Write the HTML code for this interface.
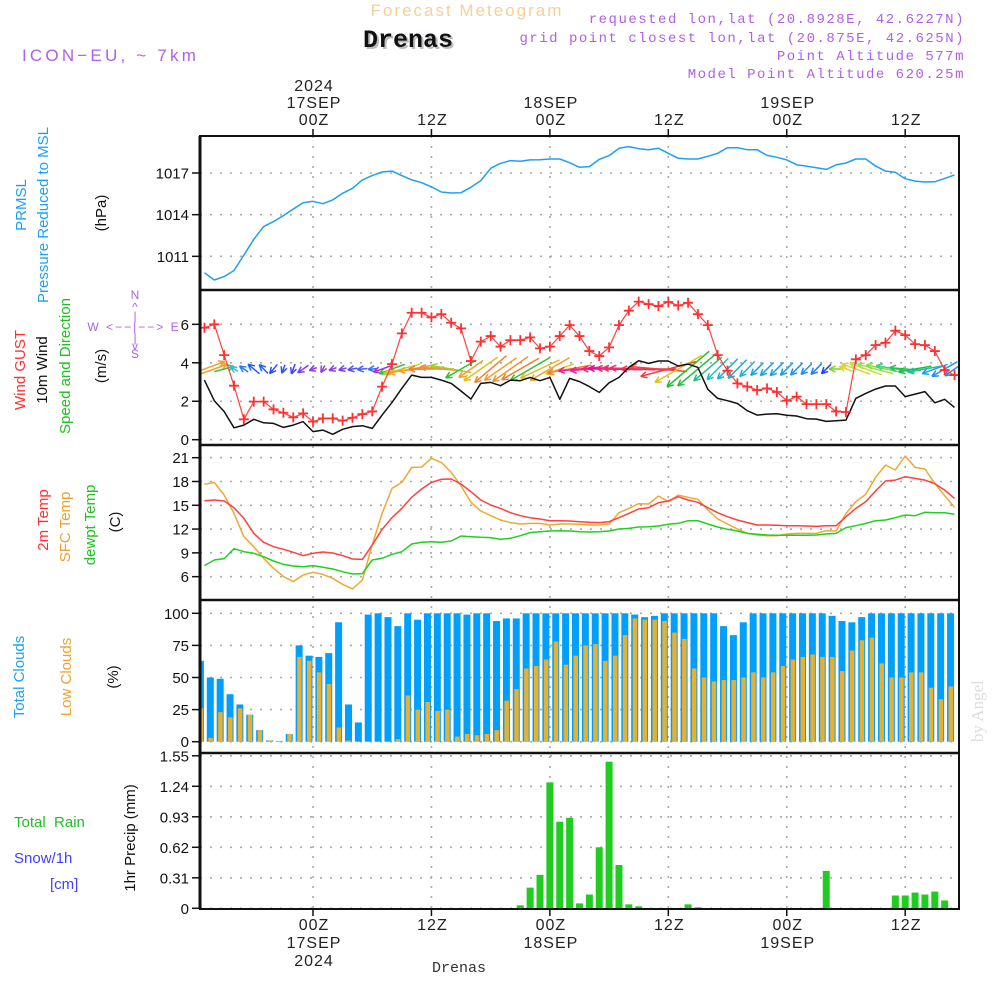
<!DOCTYPE html>
<html><head><meta charset="utf-8"><style>
body{margin:0;background:#fff}
svg{display:block;font-family:"Liberation Sans",sans-serif}
</style></head><body>
<svg id="chart" width="1000" height="1000" viewBox="0 0 1000 1000" xmlns="http://www.w3.org/2000/svg">
<g id="static">
<text x="467" y="16" text-anchor="middle" font-size="17" fill="#f6cf9a" letter-spacing="2">Forecast Meteogram</text>
<text x="410" y="49" text-anchor="middle" font-size="25" font-weight="bold" fill="#bbb" font-family="Liberation Mono,monospace">Drenas</text>
<text x="408" y="47" text-anchor="middle" font-size="25" font-weight="bold" fill="#111" font-family="Liberation Mono,monospace">Drenas</text>
<text x="22" y="61" font-size="17" fill="#b060e8" letter-spacing="3.2">ICON−EU, ~ 7km</text>
<g font-size="14" fill="#b060e8" text-anchor="end" letter-spacing="1.5" font-family="Liberation Mono,monospace">
<text x="965" y="23">requested lon,lat (20.8928E, 42.6227N)</text>
<text x="965" y="42">grid point closest lon,lat (20.875E, 42.625N)</text>
<text x="965" y="60">Point Altitude 577m</text>
<text x="965" y="78">Model Point Altitude 620.25m</text>
</g>
<text x="459" y="972" text-anchor="middle" font-size="15" fill="#333" font-family="Liberation Mono,monospace">Drenas</text>
<text x="0" y="0" transform="translate(983,742) rotate(-90)" font-size="17" fill="#ddd" font-family="Liberation Serif,serif">by Angel</text>

<g font-size="15" text-anchor="middle">
<text transform="translate(26,205) rotate(-90)" fill="#1ea0f0">PRMSL</text>
<text transform="translate(48,215) rotate(-90)" fill="#1ea0f0">Pressure Reduced to MSL</text>
<text transform="translate(106,213) rotate(-90)" fill="#111">(hPa)</text>
<text transform="translate(25,370) rotate(-90)" fill="#ff3030">Wind GUST</text>
<text transform="translate(47,370) rotate(-90)" fill="#111">10m Wind</text>
<text transform="translate(70,366) rotate(-90)" fill="#20c020">Speed and Direction</text>
<text transform="translate(106,366) rotate(-90)" fill="#111">(m/s)</text>
<text transform="translate(48,520) rotate(-90)" fill="#ff3030">2m Temp</text>
<text transform="translate(70,527) rotate(-90)" fill="#f0a030">SFC Temp</text>
<text transform="translate(95,525) rotate(-90)" fill="#20c020">dewpt Temp</text>
<text transform="translate(120,522) rotate(-90)" fill="#111">(C)</text>
<text transform="translate(24,677) rotate(-90)" fill="#1ea0f0">Total Clouds</text>
<text transform="translate(71,677) rotate(-90)" fill="#f0a030">Low Clouds</text>
<text transform="translate(118,677) rotate(-90)" fill="#111">(%)</text>
<text transform="translate(135,838) rotate(-90)" fill="#111">1hr Precip (mm)</text>
</g>
<text x="14" y="827" font-size="15" fill="#20c020" xml:space="preserve">Total  Rain</text>
<text x="14" y="863" font-size="15" fill="#4040ff">Snow/1h</text>
<text x="50" y="889" font-size="15" fill="#4040ff">[cm]</text>
<g fill="#b060e8" font-size="12" text-anchor="middle">
<text x="135" y="299">N</text><text x="135" y="311">^</text><text x="135" y="320">|</text>
<text x="134" y="331" xml:space="preserve" letter-spacing="2">W &lt;−−|−−&gt; E</text>
<text x="135" y="342">|</text><text x="135" y="350">v</text><text x="135" y="358">S</text>
</g>
</g>
<g id="grid"></g>
<g id="marks"></g>
<g id="frame"></g>
</svg>
<script>
const pressure=[1009.82,1009.30,1009.54,1009.98,1011.10,1012.23,1013.14,1013.50,1013.93,1014.41,1014.86,1014.96,1014.79,1015.06,1015.54,1015.90,1016.50,1016.81,1017.07,1017.14,1016.81,1016.50,1016.30,1016.01,1015.63,1015.56,1015.58,1015.97,1016.45,1017.34,1017.70,1017.89,1017.84,1017.94,1017.96,1018.01,1018.01,1017.74,1017.41,1017.46,1017.98,1018.25,1018.78,1018.90,1018.75,1018.68,1018.78,1018.42,1018.06,1018.01,1018.01,1018.2,1018.42,1018.82,1018.82,1018.68,1018.68,1018.27,1018.13,1017.94,1017.6,1017.5,1017.38,1017.26,1017.58,1017.72,1018.01,1018.01,1017.5,1017.14,1017.05,1016.59,1016.42,1016.35,1016.37,1016.61,1016.86];
const gust=[5.82,6.0,4.4,2.81,1.06,1.98,1.98,1.58,1.40,1.16,1.37,0.94,1.11,1.11,0.99,1.14,1.33,1.47,2.76,3.93,5.53,6.6,6.6,6.36,6.53,6.08,5.79,4.09,5.1,5.39,4.84,5.18,5.18,5.32,4.75,4.84,5.39,5.96,5.39,4.61,4.35,4.8,5.96,6.71,7.18,7.05,6.95,7.16,6.98,7.12,6.53,5.96,4.4,3.59,2.93,2.76,2.58,2.67,2.48,2.03,2.24,1.85,1.85,1.85,1.47,1.44,4.18,4.4,4.92,5.04,5.67,5.44,4.97,4.92,4.61,3.62,3.36];
const wind=[3.1,2.03,1.46,0.62,0.76,1.06,0.88,0.85,0.64,0.76,0.94,0.42,0.5,0.28,0.54,0.68,0.73,0.59,1.28,1.94,2.67,3.36,3.24,3.24,3.1,2.93,2.53,2.11,2.93,2.98,2.81,3.1,3.07,3.24,3.07,3.24,2.1,3.19,3.02,2.76,2.46,2.96,3.24,3.76,4.11,3.97,4.09,4.09,3.83,3.93,3.76,2.62,2.15,2.03,1.88,1.51,1.28,1.33,1.35,1.27,1.23,1.09,1.07,0.95,0.99,1.02,2.15,2.41,2.63,2.79,2.79,2.24,2.37,2.5,1.92,2.1,1.68];
const windDir=[20,20,15,150,145,140,135,230,250,250,215,200,240,200,195,190,185,185,200,200,195,190,185,180,175,170,210,215,215,220,215,215,210,210,205,210,200,190,185,185,180,178,178,178,178,180,175,195,210,220,220,220,225,225,225,225,225,225,225,225,225,225,225,225,180,160,160,160,165,168,170,175,190,190,200,210,215];
const windColor=["#f0a030","#f0a030","#40c040","#30c0e0","#2080ff","#2060ff","#2060ff","#3050ff","#3050ff","#4040ff","#8040f0","#9040e0","#9040e0","#9040e0","#8040f0","#5050ff","#4060ff","#3070ff","#a030e0","#30c030","#c0d020","#f0a030","#f0a030","#f08030","#f09040","#a0d020","#30c030","#f0a030","#e0c020","#f08030","#f0a030","#f09030","#f08030","#30c030","#e0c020","#f0a030","#f0c020","#f08030","#f02080","#f02090","#f02080","#e01090","#f02080","#f03060","#f03070","#f03050","#f04040","#f04040","#e0c020","#20c020","#20c040","#20c080","#20c0c0","#20b0d0","#20b0d0","#20b0d0","#20a0e0","#20a0e0","#20a0e0","#20a0e0","#2090f0","#2090f0","#2080f0","#2040ff","#80d020","#e0d040","#e0d040","#c0e040","#a0e040","#80e040","#40d080","#20c060","#20c040","#20c0a0","#20a0e0","#2090f0","#2090f0"];
const temp2m=[15.58,15.66,15.54,14.70,13.35,11.46,10.33,9.78,9.45,9.07,8.65,8.94,9.11,8.98,8.65,8.23,8.18,9.99,11.96,13.44,14.61,16.0,17.05,17.89,18.27,18.31,17.68,16.71,15.66,15.03,14.61,14.07,13.69,13.44,13.27,13.06,13.06,13.02,12.93,12.85,12.81,12.93,13.44,13.98,14.53,14.7,15.33,15.54,16.08,15.66,15.37,14.70,14.07,13.56,13.14,12.81,12.51,12.51,12.47,12.43,12.43,12.39,12.34,12.43,12.43,13.56,14.61,15.45,16.8,18.06,18.18,18.61,18.39,18.18,17.72,16.92,15.87];
const tempSfc=[17.64,17.89,16.29,13.98,11.04,9.78,8.31,7.05,6.0,5.37,6.21,6.55,6.29,5.79,5.03,4.45,5.58,9.99,13.98,17.13,17.89,19.78,19.82,20.92,20.41,19.15,17.47,15.37,14.28,13.69,13.14,12.81,12.64,12.72,12.72,12.51,12.64,12.64,12.6,12.51,12.51,12.64,14.07,14.61,15.2,15.16,16.17,15.45,16.29,16.0,15.75,14.4,13.27,12.64,12.01,11.46,11.25,11.17,11.17,11.38,11.46,11.46,11.46,11.8,11.76,13.98,15.45,16.38,18.52,20.08,19.45,21.21,19.78,19.57,17.76,16.21,14.74];
const dewpt=[7.39,8.10,8.27,9.53,9.15,8.94,8.52,7.97,7.55,7.34,7.26,7.39,7.18,6.97,6.63,6.34,6.38,8.10,8.31,8.82,9.15,10.12,10.33,10.41,10.33,10.5,11.13,11.04,10.96,10.92,10.71,10.83,11.17,11.55,11.67,11.76,11.8,11.76,11.67,11.63,11.67,11.76,12.01,12.09,12.26,12.3,12.39,12.6,12.72,13.06,13.06,12.64,12.26,11.97,11.76,11.46,11.34,11.25,11.21,11.21,11.21,11.21,11.25,11.38,11.46,12.18,12.43,12.72,13.06,13.14,13.44,13.77,13.69,14.11,14.07,14.07,13.86];
const totalCloud=[63,50,49,37,29,21,9,1,0.5,6,75,67,66,69,93,29,15,99,100,97,90,100,95,100,100,100,100,99,100,100,94,96,96,100,100,100,100,100,100,100,100,100,100,100,99,97,98,100,100,100,100,100,100,90,83,93,100,100,100,100,100,100,100,100,98,94,93,97,100,100,100,100,100,100,100,100,100];
const lowCloud=[26,3,23,19,26,21,9,1,0.5,6,66,63,54,45,11,1,0,0,0,0,2,36,25,31,24,25,4,6,5,6,9,32,41,57,59,64,78,60,67,75,76,63,67,83,96,95,95,94,85,80,57,50,47,48,48,50,54,50,54,59,64,66,68,66,66,55,71,79,81,61,50,50,54,54,42,33,43];
const precip=[0,0,0,0,0,0,0,0,0,0,0,0,0,0,0,0,0,0,0,0,0,0,0,0,0,0,0,0,0,0,0,0,0.03,0.21,0.34,1.28,0.88,0.92,0.05,0.14,0.62,1.49,0.44,0.04,0.02,0,0,0,0,0.04,0.01,0,0,0,0,0,0,0,0,0,0,0,0,0.38,0,0,0,0,0,0,0.13,0.13,0.16,0.14,0.17,0.08,0];
const pTicks=[1011,1014,1017];
const wTicks=[0,2,4,6];
const tTicks=[6,9,12,15,18,21];
const cTicks=[0,25,50,75,100];
const rTicks=["0","0.31","0.62","0.93","1.24","1.55"];
const timeTicks=[0,12,24,36,48,60];
const timeLabels=[["2024","17SEP","00Z"],["12Z"],["18SEP","00Z"],["12Z"],["19SEP","00Z"],["12Z"]];
const firstHour=-11;

const NS="http://www.w3.org/2000/svg";
const X0=200,X1=959;
const xH=h=>313+9.87*h;
const xi=i=>xH(firstHour+i);
const yP=p=>173+(1017-p)*13.89;
const yW=v=>439.7-v*19.23;
const yT=t=>457.7+(21-t)*7.93;
const yC=c=>741.7-c*1.284;
const yR=r=>908.3-r*98.4;
const panels=[[136,290],[290,445],[445,600],[600,753],[753,909]];
function mk(tag,attrs,parent){const e=document.createElementNS(NS,tag);for(const k in attrs)e.setAttribute(k,attrs[k]);parent.appendChild(e);return e;}
const grid=document.getElementById('grid'),marks=document.getElementById('marks'),frame=document.getElementById('frame');

function hTicks(vals,yf,fmt){
  vals.forEach(v=>{const y=yf(+v);
    const g=mk('line',{x1:X0,x2:X1,y1:y,y2:y,stroke:'#aaa','stroke-width':1.6,'stroke-dasharray':'2 8'},grid);
    
    
    const t=mk('line',{x1:192,x2:X0,y1:y,y2:y,stroke:'#111','stroke-width':1.5},frame);
    
    
    const l=mk('text',{x:189,y:y+5.5,'text-anchor':'end','font-size':15,fill:'#111'},frame);
    l.textContent=fmt?fmt(v):v;
    
    
  });
}
hTicks(pTicks,yP);hTicks(wTicks,yW);hTicks(tTicks,yT);hTicks(cTicks,yC);hTicks(rTicks,yR);

timeTicks.forEach((h,k)=>{const x=xH(h);
  const g=mk('line',{x1:x,x2:x,y1:136,y2:909,stroke:'#aaa','stroke-width':1.6,'stroke-dasharray':'2 8'},grid);
  
  
  [[129,136],[909,916]].forEach(([a,b])=>{const t=mk('line',{x1:x,x2:x,y1:a,y2:b,stroke:'#111','stroke-width':1.5},frame);
    
    });
  const labs=timeLabels[k];
  labs.forEach((s,j)=>{const t=mk('text',{x:x+1,y:125-(labs.length-1-j)*17,'text-anchor':'middle','font-size':16,fill:'#222','letter-spacing':1},frame);t.textContent=s;
    
    });
  const bl=labs.slice().reverse();
  bl.forEach((s,j)=>{const t=mk('text',{x:x+1,y:930+j*18,'text-anchor':'middle','font-size':16,fill:'#222','letter-spacing':1},frame);t.textContent=s;
    
    });
});

const defs=mk('defs',{},marks);const cp=mk('clipPath',{id:'plotclip'},defs);mk('rect',{x:X0,y:136,width:X1-X0,height:773},cp);
const mg=mk('g',{'clip-path':'url(#plotclip)'},marks);

function line(arr,yf,color,name,w){
  const pts=arr.map((v,i)=>xi(i).toFixed(1)+','+yf(v).toFixed(1)).join(' ');
  const p=mk('polyline',{points:pts,fill:'none',stroke:color,'stroke-width':w||1.5,'stroke-linejoin':'round'},mg);
  
  
}
line(pressure,yP,'#1ea0f0','pressure-line');

totalCloud.forEach((v,i)=>{const x=xi(i)-4;
  const b=mk('rect',{x:x-3.5,y:yC(v),width:7,height:yC(0)-yC(v),fill:'#009ffc'},mg);
  
  
  const l=mk('rect',{x:x-2,y:yC(lowCloud[i]),width:4.5,height:yC(0)-yC(lowCloud[i]),fill:'#e8b030'},mg);
  
  
});
precip.forEach((v,i)=>{if(v<=0)return;const x=xi(i);
  const b=mk('rect',{x:x-3.5,y:yR(v),width:7,height:yR(0)-yR(v),fill:'#20cc20'},mg);
  
  
});

wind.forEach((v,i)=>{const x=xi(i),yc=369,L=Math.max(v*14,8),a=windDir[i]*Math.PI/180;
  const dx=Math.cos(a)*L/2,dy=-Math.sin(a)*L/2;
  const hx=x+dx,hy=yc+dy,tx=x-dx,ty=yc-dy;
  const g=mk('g',{stroke:windColor[i],'stroke-width':1.5,fill:'none'},mg);
  
  
  mk('line',{x1:tx,y1:ty,x2:hx,y2:hy},g);
  [0.45,-0.45].forEach(d=>{const b=a+Math.PI+d;mk('line',{x1:hx,y1:hy,x2:hx+Math.cos(b)*7,y2:hy-Math.sin(b)*7},g);});
});
line(wind,yW,'#111','wind-speed-line');
line(gust,yW,'#ff4040','gust-line',1.2);
gust.forEach((v,i)=>{const x=xi(i),y=yW(v);
  const g=mk('path',{d:`M${x-5},${y}h10M${x},${y-5}v10`,stroke:'#ff3030','stroke-width':1.8},mg);
  
  
});
line(tempSfc,yT,'#f0a830','sfc-temp-line');
line(temp2m,yT,'#ff4040','temp-2m-line');
line(dewpt,yT,'#20d020','dewpoint-line');

const fr=mk('rect',{x:X0,y:136,width:X1-X0,height:773,fill:'none',stroke:'#111','stroke-width':2},frame);


mk('line',{x1:X0,x2:X0,y1:136,y2:909,stroke:'#111','stroke-width':3},frame);
panels.slice(1).forEach(([t])=>{const l=mk('line',{x1:X0,x2:X1,y1:t,y2:t,stroke:'#111','stroke-width':2.5},frame);
  
  });
</script>
</body></html>
